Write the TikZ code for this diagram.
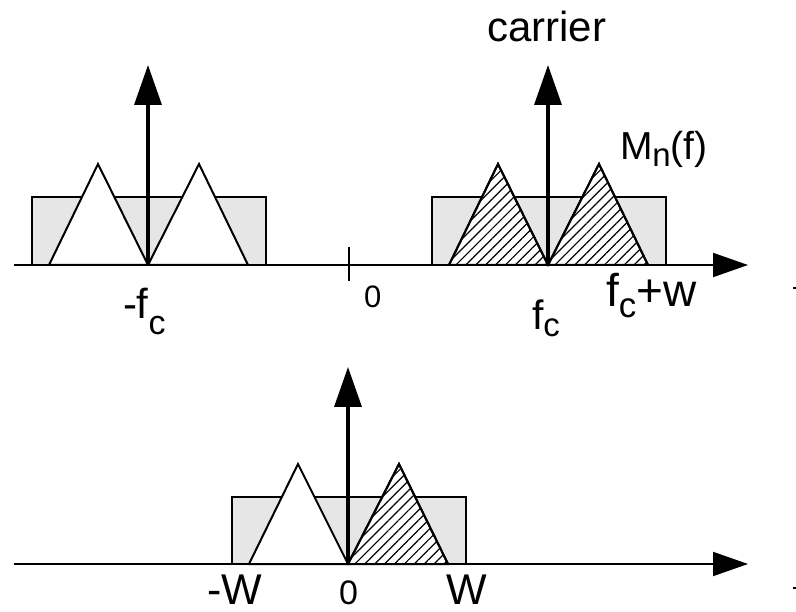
\documentclass[tikz,border=0pt]{standalone}
\usepackage{fontspec}
\setmainfont{Liberation Sans}
\usetikzlibrary{arrows.meta,patterns.meta}
\tikzset{
  axis/.style={line width=2pt,-{Triangle[length=35pt,width=24pt]}},
  carrierarrow/.style={line width=3.5pt,-{Triangle[length=40pt,width=27pt]}},
  band/.style={draw=black,line width=2pt,fill={rgb,255:red,230;green,230;blue,230},line join=miter},
  tri/.style={draw=black,line width=2pt,fill=white,line join=miter},
  hatch/.style={pattern={Lines[angle=45,distance=7pt,line width=1.2pt]}},
  lbl/.style={inner sep=0pt,outer sep=0pt},
}
\newcommand{\fsz}[1]{\fontsize{#1}{#1}\selectfont}
\begin{document}
\begin{tikzpicture}[x=1pt,y=-1pt]
\useasboundingbox (0,0) rectangle (796,612);
% ---------- top spectrum ----------
\draw[band] (32,265) rectangle (266,197);
\draw[tri] (49,265) -- (98,164) -- (148,265) -- cycle;
\draw[tri] (148,265) -- (199,164) -- (248,265) -- cycle;
\draw[band] (432,265) rectangle (666,197);
\draw[tri] (449,265) -- (498,164) -- (548,265) -- cycle;
\draw[tri] (548,265) -- (599,164) -- (648,265) -- cycle;
\fill[hatch] (449,265) -- (498,164) -- (548,265) -- cycle;
\fill[hatch] (548,265) -- (599,164) -- (648,265) -- cycle;
\draw[line width=2pt,line join=miter] (449,265) -- (498,164) -- (548,265) -- (599,164) -- (648,265);
\coordinate (cl0) at (148,265); \coordinate (cl1) at (148,65);
\coordinate (cr0) at (548,265); \coordinate (cr1) at (548,65);
\draw[carrierarrow] (cl0) -- (cl1);
\draw[carrierarrow] (cr0) -- (cr1);
\coordinate (a1s) at (14,265); \coordinate (a1e) at (748,265);
\draw[axis] (a1s) -- (a1e);
\coordinate (t0a) at (349,247); \coordinate (t0b) at (349,281);
\draw[line width=2pt] (t0a) -- (t0b);
\node[lbl,anchor=base west] (carrier) at (487,42) {\fsz{42}carrier};
\node[lbl,anchor=base west] (mnf) at (620,160) {\fsz{39}M\raisebox{-7pt}{\fsz{33}n}(f)};
\node[lbl,anchor=base west] (mfc) at (123,319) {\fsz{42}-f\raisebox{-16pt}{\fsz{34}c}};
\node[lbl,anchor=base west] (zero1) at (364,308) {\fsz{31}0};
\node[lbl,anchor=base west] (fc) at (532,330) {\fsz{41}f\raisebox{-7pt}{\fsz{33}c}};
\node[lbl,anchor=base west] (fcw) at (606,307) {\fsz{46}f\raisebox{-11pt}{\fsz{35}c}+w};
\fill (793,287) rectangle (796,289);
% ---------- bottom spectrum ----------
\draw[band] (232,564) rectangle (466,497);
\draw[tri] (249,564) -- (298,464) -- (348,564) -- cycle;
\draw[tri] (348,564) -- (399,464) -- (448,564) -- cycle;
\fill[hatch] (348,564) -- (399,464) -- (448,564) -- cycle;
\draw[line width=2pt,line join=miter] (348,564) -- (399,464) -- (448,564);
\coordinate (cb0) at (348,564); \coordinate (cb1) at (348,367);
\draw[carrierarrow] (cb0) -- (cb1);
\coordinate (a2s) at (14,564); \coordinate (a2e) at (748,564);
\draw[axis] (a2s) -- (a2e);
\node[lbl,anchor=base east] (mw) at (262,604) {\fsz{43}-W};
\node[lbl,anchor=base west] (zero2) at (339,604) {\fsz{34}0};
\node[lbl,anchor=base west] (w) at (446,604) {\fsz{43}W};
\fill (793,587) rectangle (796,589);
\end{tikzpicture}
\end{document}
